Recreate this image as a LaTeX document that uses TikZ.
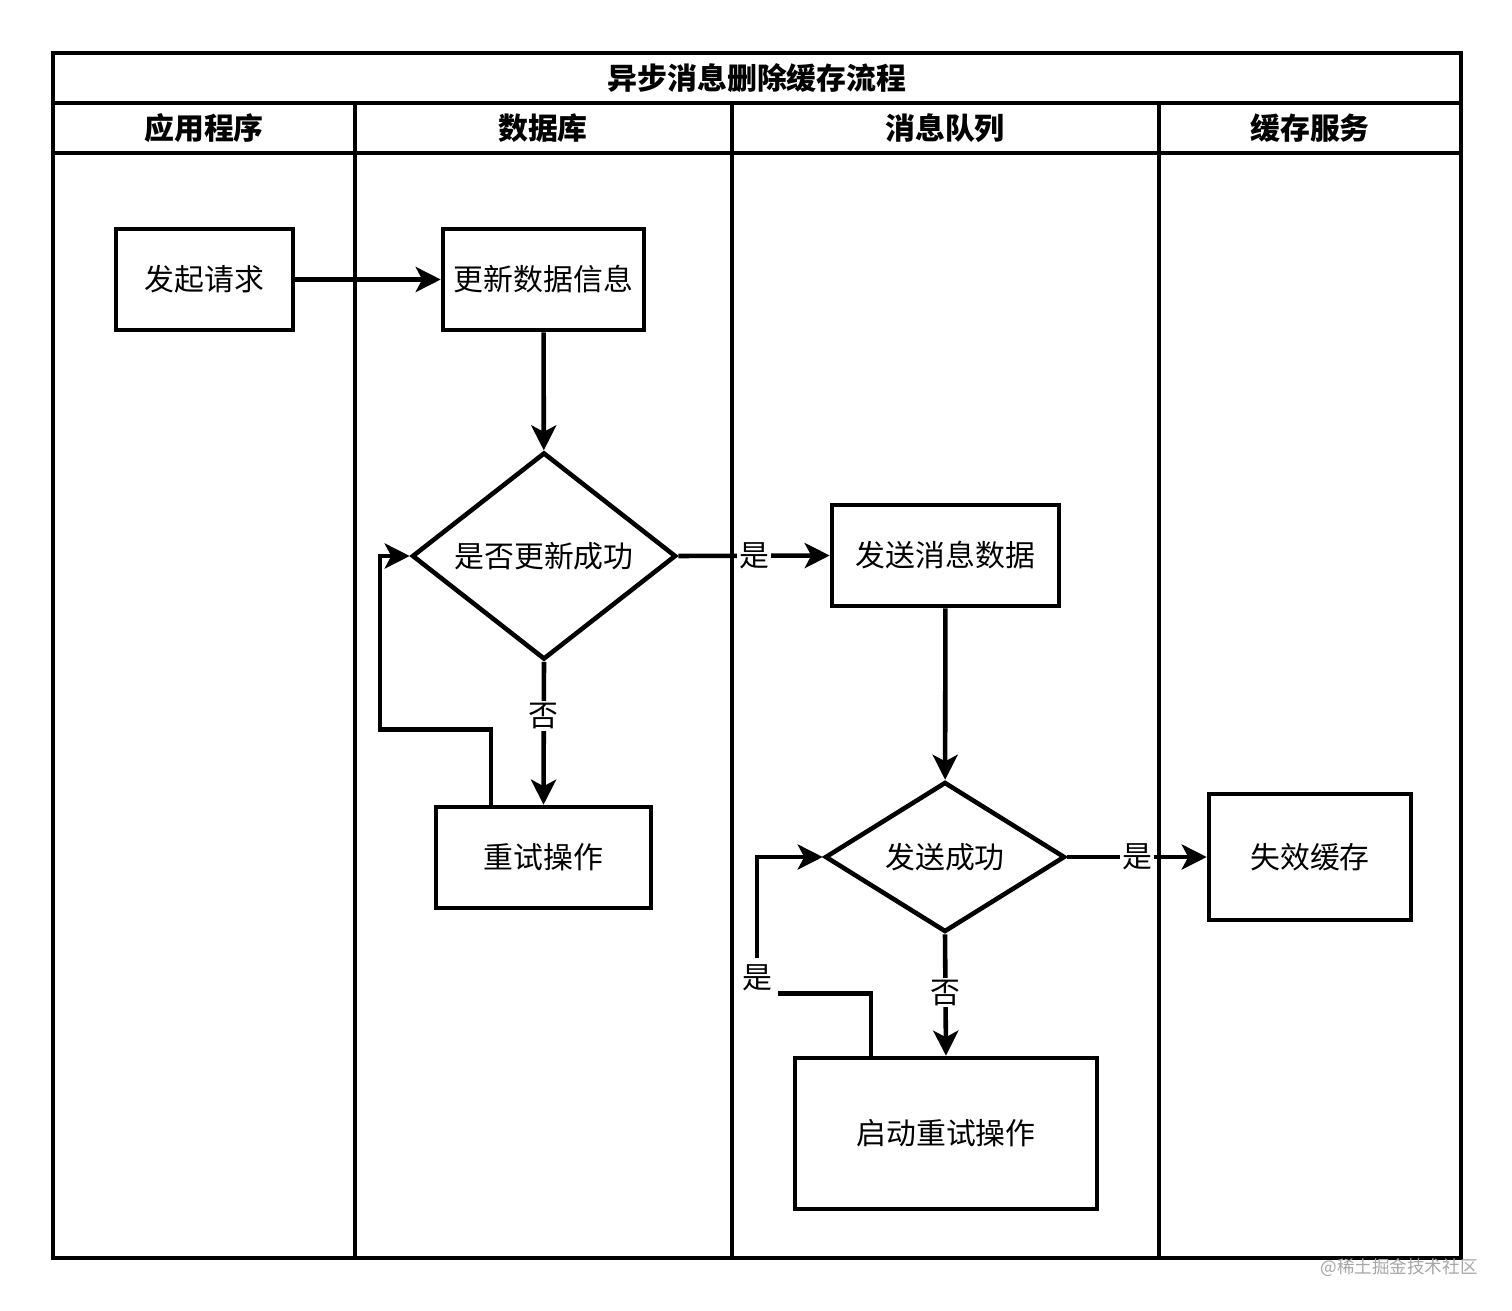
\documentclass[tikz,border=0pt]{standalone}
\usepackage{fontspec}
\setmainfont{Noto Sans CJK SC}
\usetikzlibrary{shapes.geometric,arrows.meta}

\tikzset{
  box/.style={rectangle, draw=black, line width=2.6pt, inner sep=0pt, font=\fontsize{17}{20}\selectfont},
  cond/.style={diamond, draw=black, line width=2.6pt, inner sep=0pt, font=\fontsize{17}{20}\selectfont},
  arrow/.style={draw=black, line width=2.6pt, -{Stealth[length=0.5cm, width=0.5cm, inset=0.13cm]}},
  lbl/.style={fill=white, inner sep=1pt, font=\fontsize{17}{20}\selectfont},
  head/.style={font=\bfseries\fontsize{17}{20}\selectfont}
}

\begin{document}
\begin{tikzpicture}[x=0.02cm, y=-0.02cm]
				\useasboundingbox (0,0) rectangle (1512,1311);
				
				% lanes
				\draw[line width=2.6pt] (53,53) rectangle (1461,1258);
				\draw[line width=2.6pt] (53,103) -- (1461,103);
				\draw[line width=2.6pt] (53,153) -- (1461,153);
				\draw[line width=2.6pt] (355,103) -- (355,1258);
				\draw[line width=2.6pt] (732,103) -- (732,1258);
				\draw[line width=2.6pt] (1159,103) -- (1159,1258);
				
				\node[head] (title) at (757,78) {异步消息删除缓存流程};
				\node[head] (app) at (204,128) {应用程序};
				\node[head] (db) at (543,128) {数据库};
				\node[head] (mq) at (945,128) {消息队列};
				\node[head] (cache) at (1310,128) {缓存服务};
				
				% steps
				\node[box, minimum width=3.54cm, minimum height=2.02cm] (req) at (204.5,279.5) {发起请求};
				\node[box, minimum width=4.02cm, minimum height=2.02cm] (upd) at (543.5,279.5) {更新数据信息};
				\node[cond, minimum width=5.28cm, minimum height=4cm] (chk1) at (544,556) {是否更新成功};
				\node[box, minimum width=4.3cm, minimum height=2.02cm] (retry) at (543.5,857.5) {重试操作};
				\node[box, minimum width=4.54cm, minimum height=2.02cm] (send) at (945.5,555.5) {发送消息数据};
				\node[cond, minimum width=4.8cm, minimum height=3cm] (chk2) at (945,857) {发送成功};
				\node[box, minimum width=4.04cm, minimum height=2.52cm] (inval) at (1310,857) {失效缓存};
				\node[box, minimum width=6.04cm, minimum height=3.02cm] (restart) at (946,1133.5) {启动重试操作};
				
				\node[text=black!35, font=\fontsize{10}{12}\selectfont] (mark) at (1399,1268) {@稀土掘金技术社区};
				
				% connectors
				\path[arrow] (req) -- (upd);
				\path[arrow] (upd) -- (chk1);
				\path[arrow] (chk1.east) -- node[lbl, pos=0.5] {是} (send.west);
				\path[arrow] (chk1.south) -- node[lbl, pos=0.38] {否} (retry.north);
				\path[arrow] ([xshift=-1.05cm]retry.north) |- ++(-111,-75) |- (chk1.west);
				\path[arrow] (send) -- (chk2);
				\path[arrow] (chk2.east) -- node[lbl, pos=0.5] {是} (inval.west);
				\path[arrow] (chk2.south) -- node[lbl, pos=0.48] {否} (restart.north);
				\path[arrow] ([xshift=-1.5cm]restart.north) |- ++(-114,-62) |- node[lbl, inner sep=3.6pt, pos=0.058] {是} (chk2.west);
				\end{tikzpicture}
\end{document}
